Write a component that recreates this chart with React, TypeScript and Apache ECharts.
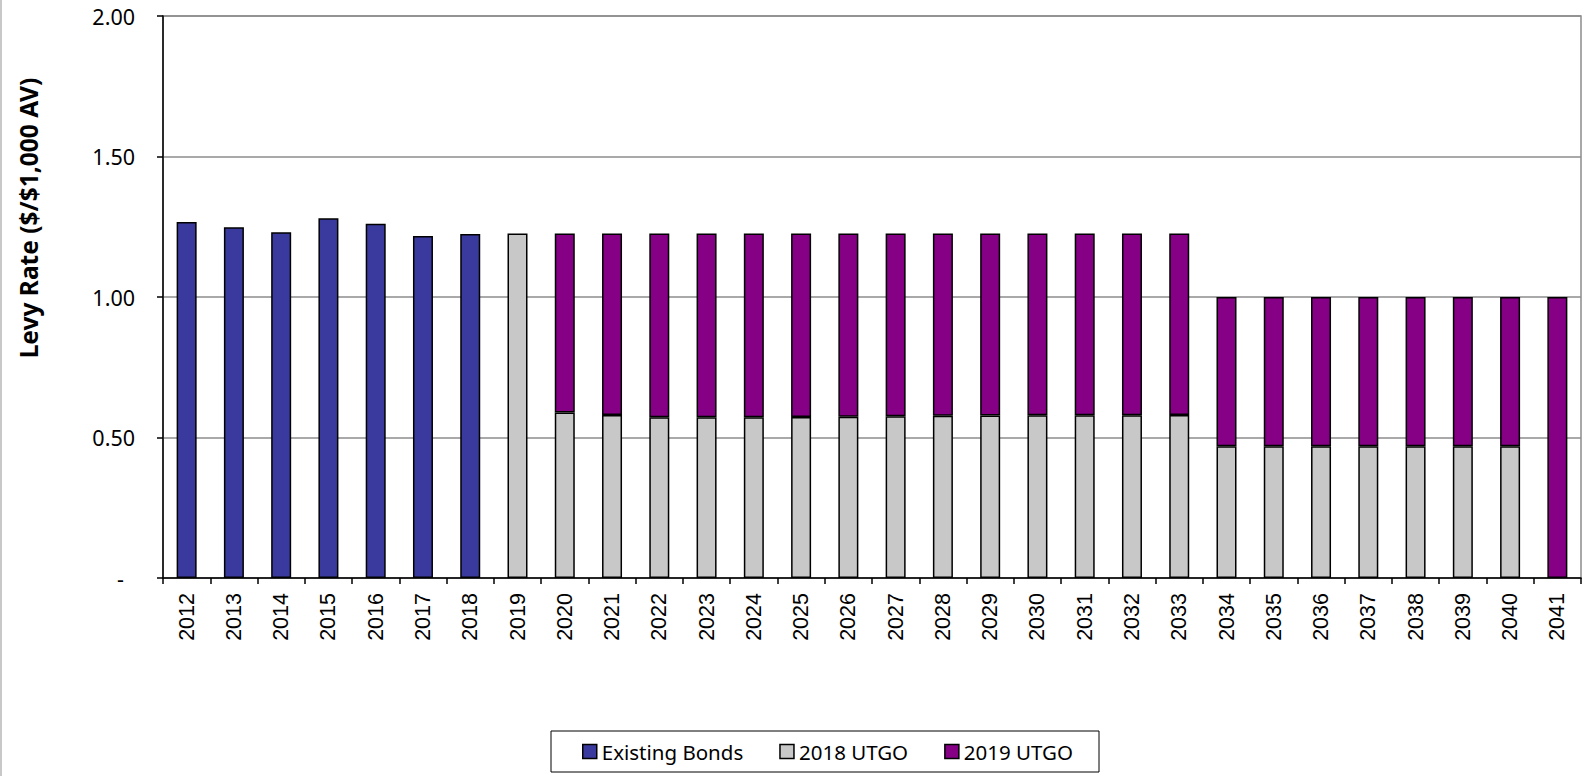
import React, { useEffect, useRef } from "react";
import * as echarts from "echarts";

const years = [
  "2012", "2013", "2014", "2015", "2016", "2017", "2018", "2019", "2020", "2021",
  "2022", "2023", "2024", "2025", "2026", "2027", "2028", "2029", "2030", "2031",
  "2032", "2033", "2034", "2035", "2036", "2037", "2038", "2039", "2040", "2041",
];

const existingBonds = [
  1.267, 1.248, 1.23, 1.28, 1.261, 1.217, 1.224, null, null, null,
  null, null, null, null, null, null, null, null, null, null,
  null, null, null, null, null, null, null, null, null, null,
];

const utgo2018 = [
  null, null, null, null, null, null, null, 1.226, 0.589, 0.58,
  0.572, 0.572, 0.572, 0.573, 0.574, 0.576, 0.577, 0.578, 0.579, 0.579,
  0.579, 0.58, 0.469, 0.469, 0.469, 0.469, 0.469, 0.469, 0.469, null,
];

const utgo2019 = [
  null, null, null, null, null, null, null, null, 0.637, 0.646,
  0.654, 0.654, 0.654, 0.653, 0.652, 0.65, 0.649, 0.648, 0.647, 0.647,
  0.647, 0.646, 0.531, 0.531, 0.531, 0.531, 0.531, 0.531, 0.531, 1.0,
];

const yTicks = [0, 0.5, 1.0, 1.5, 2.0];

export default function App() {
  const ref = useRef<HTMLDivElement>(null);

  useEffect(() => {
    document.body.style.margin = "0";
    if (!ref.current) return;
    const chart = echarts.init(ref.current, null, { renderer: "svg" });
    const barBase = {
      type: "bar" as const,
      stack: "total",
      barWidth: 20,
      itemStyle: { borderColor: "#000", borderWidth: 1.5 },
    };
    chart.setOption({
      animation: false,
      backgroundColor: "#fff",
      grid: {
        left: 163,
        top: 16,
        right: 2,
        bottom: 198,
        show: true,
        borderColor: "#8c8c8c",
        borderWidth: 1.5,
      },
      legend: {
        data: ["Existing Bonds", "2018 UTGO", "2019 UTGO"],
        left: 551,
        top: 731,
        orient: "horizontal",
        icon: "rect",
        itemWidth: 14,
        itemHeight: 14,
        itemGap: 36,
        padding: [10, 26, 10, 31],
        borderColor: "#000",
        borderWidth: 1,
        backgroundColor: "#fff",
        itemStyle: { borderColor: "#000", borderWidth: 1.5 },
        textStyle: { fontFamily: "Noto Sans", fontSize: 20.5, color: "#000" },
      },
      xAxis: {
        type: "category",
        data: years,
        boundaryGap: true,
        axisLine: { lineStyle: { color: "#000", width: 1.5 } },
        axisTick: { show: true, length: 6, alignWithLabel: false, lineStyle: { color: "#000", width: 1.5 } },
        axisLabel: {
          interval: 0,
          rotate: 90,
          margin: 15,
          fontFamily: "Liberation Sans",
          fontSize: 21.5,
          color: "#000",
        },
      },
      yAxis: {
        type: "value",
        min: yTicks[0],
        max: yTicks[yTicks.length - 1],
        interval: 0.5,
        axisLine: { show: true, lineStyle: { color: "#000", width: 1.5 } },
        axisTick: { show: true, length: 6, inside: false, lineStyle: { color: "#000", width: 1.5 } },
        splitLine: { show: true, lineStyle: { color: "#8c8c8c", width: 1.5 } },
        axisLabel: {
          margin: 28,
          fontFamily: "Noto Sans",
          fontSize: 21.5,
          color: "#000",
          formatter: (v: number) => (v === 0 ? "{d|-}" : v.toFixed(2)),
          rich: {
            d: { fontFamily: "Noto Sans", fontSize: 21.5, color: "#000", padding: [0, 11, 0, 0] },
          },
        },
      },
      graphic: [
        {
          type: "text",
          x: 28,
          y: 218,
          rotation: Math.PI / 2,
          style: {
            text: "Levy Rate ($/$1,000 AV)",
            fontFamily: "Noto Sans",
            fontWeight: "bold",
            fontSize: 24.5,
            fill: "#000",
            textAlign: "center",
            textVerticalAlign: "middle",
          },
        },
        {
          type: "line",
          shape: { x1: 1, y1: 0, x2: 1, y2: 776 },
          style: { stroke: "#c8c8c8", lineWidth: 2 },
        },
      ],
      series: [
        { ...barBase, name: "Existing Bonds", data: existingBonds, itemStyle: { ...barBase.itemStyle, color: "#3a3a9e" } },
        { ...barBase, name: "2018 UTGO", data: utgo2018, itemStyle: { ...barBase.itemStyle, color: "#c8c8c8" } },
        { ...barBase, name: "2019 UTGO", data: utgo2019, itemStyle: { ...barBase.itemStyle, color: "#850085" } },
      ],
    });
    return () => chart.dispose();
  }, []);

  return (
    <div
      ref={ref}
      style={{ position: "fixed", left: 0, top: 0, width: 1583, height: 776 }}
    />
  );
}
